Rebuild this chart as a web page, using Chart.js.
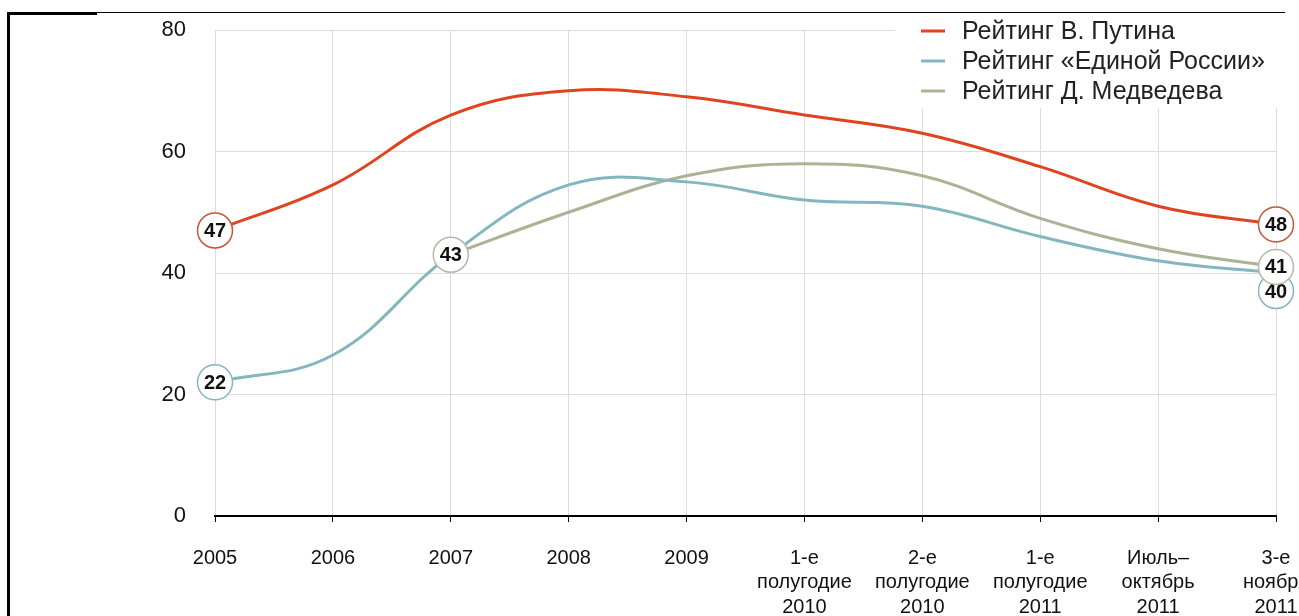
<!DOCTYPE html>
<html>
<head>
<meta charset="utf-8">
<script src="https://cdn.jsdelivr.net/npm/chart.js@4"></script>
<style>
  html, body { margin: 0; padding: 0; background: #fff; overflow: hidden; width: 1299px; height: 616px; }
  #wrap { position: absolute; left: 0; top: 0; width: 1310px; height: 616px; }
  .frame-left { position: absolute; left: 7px; top: 12px; width: 3px; height: 610px; background: #000; z-index: 2; }
  .frame-top { position: absolute; left: 7px; top: 12px; width: 1278px; height: 1px; background: #000; z-index: 2; }
  .frame-top-thick { position: absolute; left: 7px; top: 12px; width: 90px; height: 3px; background: #000; z-index: 2; }
</style>
</head>
<body>
<div class="frame-left"></div>
<div class="frame-top"></div>
<div class="frame-top-thick"></div>
<div id="wrap"><canvas id="ratingChart"></canvas></div>
<script>
  const periods = [
    '2005', '2006', '2007', '2008', '2009',
    ['1-е', 'полугодие', '2010'],
    ['2-е', 'полугодие', '2010'],
    ['1-е', 'полугодие', '2011'],
    ['Июль–', 'октябрь', '2011'],
    ['3-е', 'ноября', '2011']
  ];
  const putinRating = [47, 54.5, 66, 70, 69, 66, 63, 57.5, 51, 48];
  const unitedRussiaRating = [22, 26.5, 43, 54.5, 55, 52, 51, 46, 42, 40];
  const medvedevRating = [null, null, 43, 50, 56, 58, 56, 49, 44, 41];
  const yTicks = [0, 20, 40, 60, 80];

  // which points get a labelled circle, and small nudges so circles don't collide
  const putinMarked = [0, 9];
  const unitedRussiaMarked = [0, 9];
  const medvedevMarked = [2, 9];

  const RED = '#e0431f';
  const BLUE = '#84b6bf';
  const OLIVE = '#aab394';

  const circleLabels = {
    id: 'circleLabels',
    afterDatasetsDraw(chart) {
      const ctx = chart.ctx;
      const order = [
        { ds: 1, idx: unitedRussiaMarked, color: BLUE, dy: { 9: 18 } },
        { ds: 2, idx: medvedevMarked, color: '#b8b8a8', dy: {} },
        { ds: 0, idx: putinMarked, color: '#c8553a', dy: {} }
      ];
      order.forEach(o => {
        const meta = chart.getDatasetMeta(o.ds);
        const values = chart.data.datasets[o.ds].data;
        o.idx.forEach(i => {
          const pt = meta.data[i];
          const x = pt.x;
          const y = pt.y + (o.dy[i] || 0);
          ctx.save();
          ctx.beginPath();
          ctx.arc(x, y, 17.5, 0, Math.PI * 2);
          ctx.fillStyle = '#fff';
          ctx.fill();
          ctx.lineWidth = 1.5;
          ctx.strokeStyle = o.color;
          ctx.stroke();
          ctx.fillStyle = '#111';
          ctx.font = 'bold 20px "Liberation Sans", Arial, sans-serif';
          ctx.textAlign = 'center';
          ctx.textBaseline = 'middle';
          ctx.fillText(String(values[i]), x, y + 1);
          ctx.restore();
        });
      });
    }
  };

  const boxLegend = {
    id: 'boxLegend',
    afterDraw(chart) {
      const ctx = chart.ctx;
      ctx.save();
      ctx.fillStyle = '#fff';
      ctx.fillRect(895, 14, chart.width - 895, 94);
      ctx.font = '25px "Liberation Sans", Arial, sans-serif';
      ctx.textBaseline = 'middle';
      chart.data.datasets.forEach((ds, i) => {
        const y = 31 + i * 30;
        ctx.strokeStyle = ds.borderColor;
        ctx.lineWidth = 3;
        ctx.beginPath();
        ctx.moveTo(921, y);
        ctx.lineTo(945, y);
        ctx.stroke();
        ctx.fillStyle = '#222';
        ctx.fillText(ds.label, 962, y + 1);
      });
      ctx.restore();
    }
  };

  const canvas = document.getElementById('ratingChart');
  new Chart(canvas, {
    type: 'line',
    data: {
      labels: periods,
      datasets: [
        { label: 'Рейтинг В. Путина', data: putinRating, borderColor: RED },
        { label: 'Рейтинг «Единой России»', data: unitedRussiaRating, borderColor: BLUE },
        { label: 'Рейтинг Д. Медведева', data: medvedevRating, borderColor: OLIVE }
      ].map(d => Object.assign(d, { borderWidth: 3, tension: 0.4, pointRadius: 0, fill: false }))
    },
    options: {
      responsive: true,
      maintainAspectRatio: false,
      animation: false,
      layout: { padding: { left: 155, top: 30, right: 34, bottom: 0 } },
      plugins: { legend: { display: false }, tooltip: { enabled: false } },
      scales: {
        x: {
          offset: false,
          grid: { color: '#dcdcdc', tickColor: '#000', tickLength: 6, lineWidth: 1 },
          border: { color: '#000', width: 2 },
          ticks: {
            autoSkip: false, maxRotation: 0, padding: 24, color: '#111',
            font: { family: '"Liberation Sans", Arial, sans-serif', size: 20, lineHeight: 1.22 }
          },
          afterFit(scale) {
            scale.height = 100;
            scale.paddingLeft = 0;
            scale.paddingRight = 0;
          }
        },
        y: {
          min: 0, max: 80,
          afterBuildTicks(scale) { scale.ticks = yTicks.map(v => ({ value: v })); },
          grid: { color: '#dcdcdc', drawTicks: false },
          border: { display: false },
          ticks: {
            padding: 29, color: '#111',
            font: { family: '"Liberation Sans", Arial, sans-serif', size: 22 }
          },
          afterFit(scale) {
            scale.width = 60;
            scale.paddingTop = 0;
            scale.paddingBottom = 0;
          }
        }
      }
    },
    plugins: [circleLabels, boxLegend]
  });
</script>
</body>
</html>
